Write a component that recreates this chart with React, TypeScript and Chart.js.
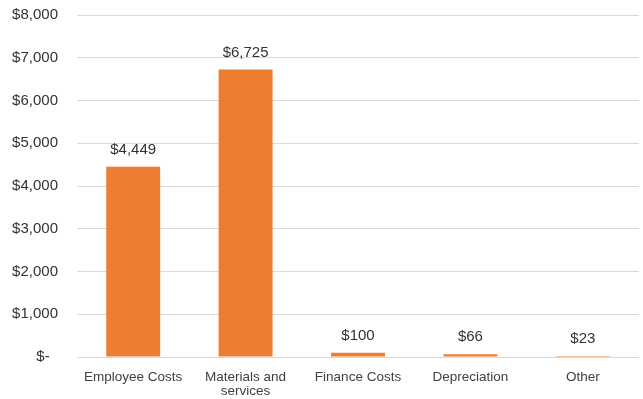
import React, { useEffect, useRef } from "react";
import { Chart, registerables } from "chart.js";

Chart.register(...registerables);

const categories: (string | string[])[] = [
  "Employee Costs",
  ["Materials and", "services"],
  "Finance Costs",
  "Depreciation",
  "Other",
];
const values: number[] = [4449, 6725, 100, 66, 23];
const yTicks: number[] = [0, 1000, 2000, 3000, 4000, 5000, 6000, 7000, 8000];

const fmt = (v: number) => "$" + v.toLocaleString("en-US");
const FAMILY = "'Liberation Sans', Arial, sans-serif";

const dataLabelPlugin = {
  id: "dataLabels",
  afterDatasetsDraw(chart: any) {
    const ctx = chart.ctx;
    const meta = chart.getDatasetMeta(0);
    ctx.save();
    ctx.font = "15px " + FAMILY;
    ctx.fillStyle = "#333333";
    ctx.textAlign = "center";
    ctx.textBaseline = "middle";
    meta.data.forEach((el: any, i: number) => {
      ctx.fillText(fmt(values[i]), el.x, el.y - 17);
    });
    ctx.restore();
  },
};

const SHIFT = 13;

export default function App() {
  const ref = useRef<HTMLCanvasElement>(null);
  useEffect(() => {
    if (!ref.current) return;
    const chart = new Chart(ref.current, {
      type: "bar",
      data: {
        labels: categories,
        datasets: [
          {
            data: values,
            backgroundColor: "#ED7D31",
            borderWidth: 0,
            categoryPercentage: 1,
            barPercentage: 0.48,
          },
        ],
      },
      options: {
        animation: false,
        responsive: false,
        maintainAspectRatio: false,
        layout: { padding: { top: 0, right: 4, left: 0, bottom: 0 } },
        plugins: {
          legend: { display: false },
          tooltip: { enabled: false },
        },
        scales: {
          x: {
            grid: { display: false, drawTicks: false },
            border: { display: false },
            ticks: {
              color: "#404040",
              font: { family: FAMILY, size: 13.5, lineHeight: 1.05 },
              padding: 13,
              maxRotation: 0,
              autoSkip: false,
            },
            afterFit: (s: any) => {
              s.height = 42;
            },
          },
          y: {
            min: 0,
            max: 8000,
            afterBuildTicks: (s: any) => {
              s.ticks = yTicks.map((v) => ({ value: v }));
            },
            grid: { color: "#D9D9D9", drawTicks: false, lineWidth: 1 },
            border: { display: false },
            ticks: {
              color: "#333333",
              font: { family: FAMILY, size: 15 },
              padding: 19,
              callback: (v: any) => (Number(v) === 0 ? "$-  " : fmt(Number(v))),
            },
            afterFit: (s: any) => {
              s.width = 77;
            },
          },
        },
      },
      plugins: [dataLabelPlugin],
    });
    return () => chart.destroy();
  }, []);
  return (
    <div
      style={{
        position: "absolute",
        left: 0,
        top: 0,
        width: 643,
        height: 399,
        overflow: "hidden",
        background: "#fff",
      }}
    >
      <canvas
        ref={ref}
        width={643}
        height={399 + SHIFT}
        style={{ position: "absolute", left: 0, top: -SHIFT, width: 643, height: 399 + SHIFT }}
      />
    </div>
  );
}
